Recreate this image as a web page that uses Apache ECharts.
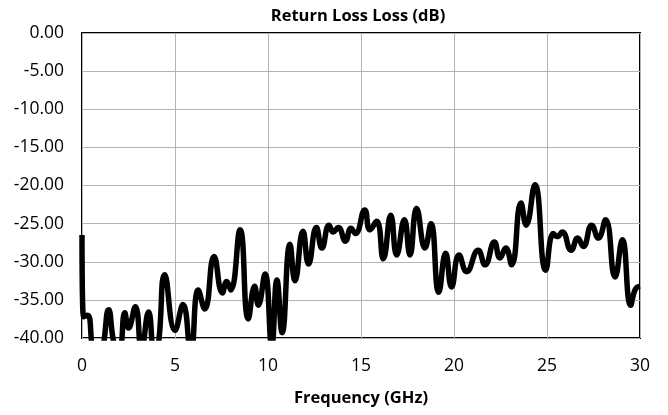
<!DOCTYPE html>
<html>
<head>
<meta charset="utf-8">
<script src="https://cdn.jsdelivr.net/npm/echarts@6/dist/echarts.min.js"></script>
<style>
    html, body { margin: 0; padding: 0; background: #fff; }
    #chart { width: 668px; height: 415px; }
</style>
</head>
<body>
<div id="chart"></div>
<script>
// frequency points (GHz) and return loss (dB)
const freqGHz = [0, 0.08, 0.3, 0.6, 0.9, 1.15, 1.43, 1.75, 2.0, 2.3, 2.5, 2.87, 3.2, 3.58, 3.9, 4.1, 4.45,
    5.0, 5.43, 5.85, 6.25, 6.6, 7.1, 7.55, 7.78, 8.0, 8.5, 8.94, 9.28, 9.48, 9.84, 10.2, 10.48, 10.76,
    11.18, 11.45, 11.88, 12.18, 12.6, 12.9, 13.28, 13.5, 13.78, 14.16, 14.46, 14.7, 15.2, 15.48, 15.84,
    16.2, 16.6, 16.92, 17.33, 17.63, 17.99, 18.44, 18.76, 19.18, 19.55, 19.87, 20.27, 20.68, 21.3, 21.67,
    22.17, 22.47, 22.78, 23.1, 23.6, 23.88, 24.35, 24.93, 25.34, 25.55, 25.82, 26.3, 26.65, 26.95, 27.4,
    27.76, 28.15, 28.66, 29.05, 29.5, 29.75, 30];
const returnLossDb = [-26.5, -37.2, -37, -42, -44, -41, -36.3, -41, -41.5, -36.7, -38.7, -35.9, -41.5, -36.6, -42, -41, -31.7,
    -39, -35.6, -42, -33.7, -36.2, -29.3, -34.1, -32.6, -33.7, -25.8, -37.5, -33.2, -35.7, -31.6, -41, -32.4, -39.3,
    -27.7, -32.5, -26, -30.3, -25.5, -28.2, -25.2, -26.1, -25.5, -27.3, -25.6, -26.3, -23.2, -25.8, -24.7,
    -29.6, -23.9, -29.1, -24.5, -29.1, -23.0, -28.2, -25.0, -34.0, -28.9, -33.3, -29.1, -31.3, -28.5, -30.4,
    -27.4, -29.5, -28.2, -30.4, -22.3, -25.2, -19.9, -31.1, -26.3, -26.7, -26.1, -28.5, -26.9, -28.0, -25.2,
    -26.9, -24.5, -32.0, -27.1, -35.7, -33.6, -33.2];

const titleText = 'Return Loss Loss (dB)';
const xName = 'Frequency (GHz)';

const fontFamily = '"Open Sans", "Liberation Sans", sans-serif';

let myChart = echarts.init(document.getElementById('chart'));
myChart.setOption({
    animation: false,
    graphic: [{
        type: 'text',
        x: 358,
        y: 16,
        style: {
            text: titleText,
            fontFamily: fontFamily,
            fontSize: 16.5,
            fontWeight: 'bold',
            fill: '#000',
            textAlign: 'center',
            textVerticalAlign: 'middle'
        }
    }],
    grid: {
        left: 82,
        right: 28,
        top: 33,
        bottom: 77,
        show: true,
        borderColor: '#000',
        borderWidth: 2,
        backgroundColor: 'transparent'
    },
    xAxis: {
        type: 'value',
        min: 0,
        max: 30,
        interval: 5,
        name: xName,
        nameLocation: 'middle',
        nameGap: 52,
        nameTextStyle: {
            fontFamily: fontFamily,
            fontSize: 16.5,
            fontWeight: 'bold',
            color: '#000'
        },
        axisLine: { show: false },
        axisTick: { show: false },
        axisLabel: {
            margin: 19,
            fontFamily: fontFamily,
            fontSize: 17.5,
            color: '#000'
        },
        splitLine: { show: true, lineStyle: { color: '#b4b4b4', width: 1 } }
    },
    yAxis: {
        type: 'value',
        min: -40,
        max: 0,
        interval: 5,
        axisLine: { show: false },
        axisTick: { show: false },
        axisLabel: {
            margin: 18,
            fontFamily: fontFamily,
            fontSize: 17.5,
            color: '#000',
            formatter: function (v) { return v.toFixed(2); }
        },
        splitLine: { show: true, lineStyle: { color: '#b4b4b4', width: 1 } }
    },
    series: [{
        type: 'line',
        data: freqGHz.map((f, i) => [f, returnLossDb[i]]),
        smooth: 0.5,
        showSymbol: false,
        clip: true,
        lineStyle: { color: '#000', width: 5.5 }
    }]
});
</script>
</body>
</html>
